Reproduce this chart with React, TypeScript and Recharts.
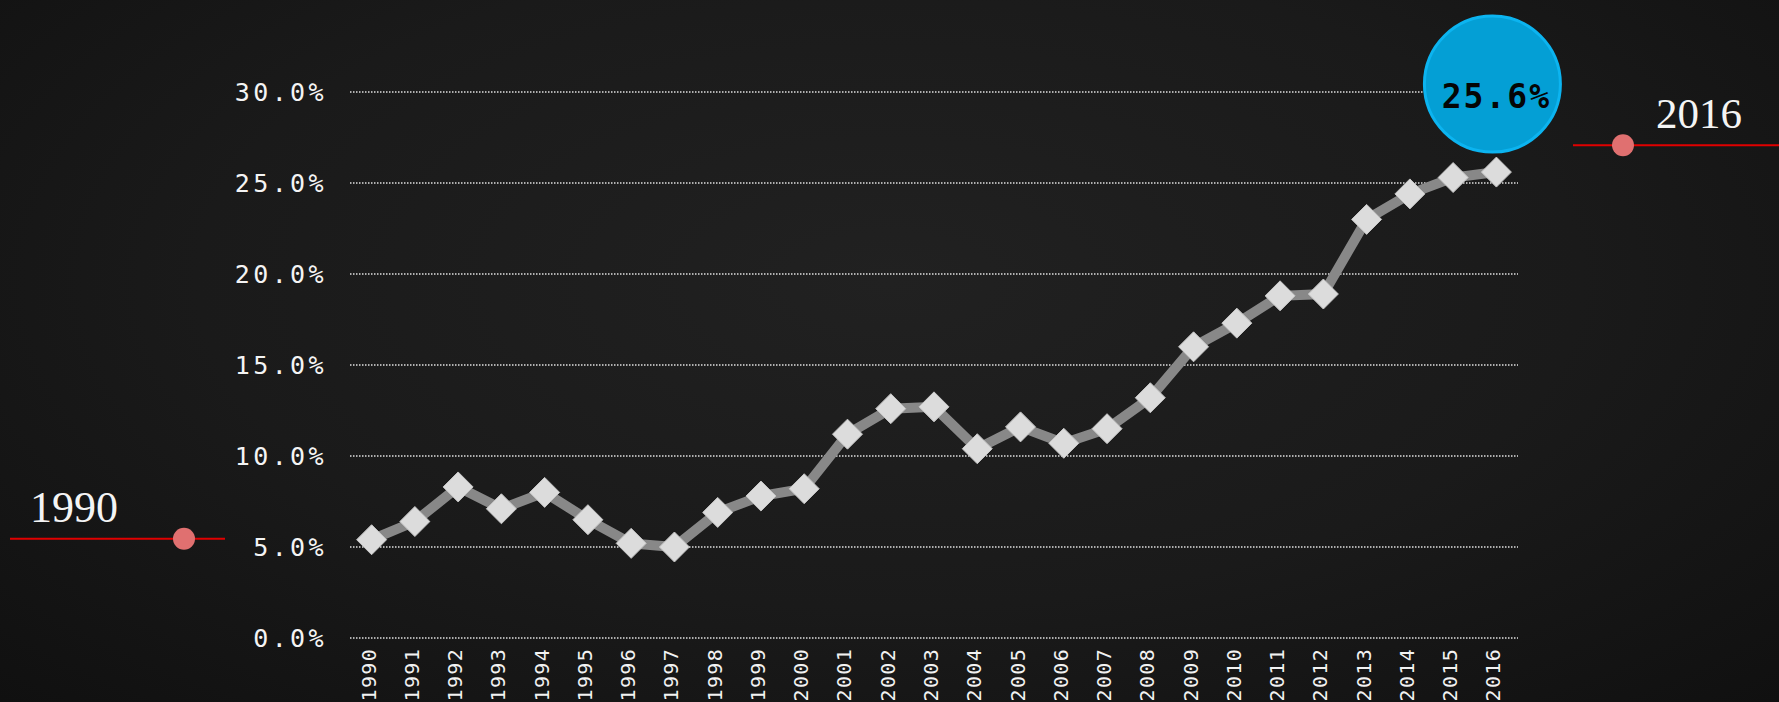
import { LineChart, Line, XAxis, YAxis, CartesianGrid } from "recharts";

const years = [
  "1990", "1991", "1992", "1993", "1994", "1995", "1996", "1997", "1998", "1999",
  "2000", "2001", "2002", "2003", "2004", "2005", "2006", "2007", "2008", "2009",
  "2010", "2011", "2012", "2013", "2014", "2015", "2016",
];

const shares = [
  5.4, 6.4, 8.3, 7.1, 8.0, 6.5, 5.2, 5.0, 6.9, 7.8,
  8.2, 11.2, 12.6, 12.7, 10.4, 11.6, 10.7, 11.5, 13.2, 16.0,
  17.3, 18.8, 18.9, 23.0, 24.4, 25.3, 25.6,
];

const yTicks = [0, 5, 10, 15, 20, 25, 30];

const data = years.map((year, i) => ({ year, share: shares[i] }));

const digitFont = "'DejaVu Sans Mono', monospace";

const Diamond = (props: any) => {
  const { cx, cy } = props;
  if (cx == null || cy == null) return null;
  const r = 15;
  return (
    <polygon
      points={`${cx},${cy - r} ${cx + r},${cy} ${cx},${cy + r} ${cx - r},${cy}`}
      fill="#dcdcdc"
      stroke="#c4c4c4"
      strokeWidth={1}
    />
  );
};

const YearTick = (props: any) => {
  const { x, y, payload } = props;
  return (
    <text
      x={x + 4}
      y={y + 10}
      transform={`rotate(-90, ${x + 4}, ${y + 10})`}
      textAnchor="end"
      fill="#f2f2f2"
      fontFamily={digitFont}
      fontSize={20}
      letterSpacing={1.3}
    >
      {payload.value}
    </text>
  );
};

const Bubble = (props: any) => {
  const { x, y, index, value } = props;
  if (index !== years.length - 1) return null;
  const cx = x - 4;
  const cy = y - 88;
  return (
    <g>
      <circle cx={cx} cy={cy} r={68} fill="#049fd5" stroke="#0cb4f0" strokeWidth={3} />
      <text
        x={cx + 4}
        y={cy + 24}
        textAnchor="middle"
        fill="#050505"
        fontFamily={digitFont}
        fontWeight="bold"
        fontSize={33}
        letterSpacing={2}
      >
        {`${value.toFixed(1)}%`}
      </text>
    </g>
  );
};

export default function App() {
  return (
    <div
      style={{
        position: "absolute",
        left: 0,
        top: 0,
        width: 1779,
        height: 702,
        overflow: "hidden",
        background: "radial-gradient(ellipse at 50% 40%, #212121 0%, #1a1a1a 55%, #101010 100%)",
      }}
    >
      <LineChart width={1779} height={702} data={data} margin={{ top: 92, right: 261, left: 0, bottom: 0 }}>
        <CartesianGrid
          vertical={false}
          stroke="#e0e0e0"
          strokeWidth={1.6}
          strokeDasharray="1.5 1.5"
        />
        <XAxis
          dataKey="year"
          height={64}
          padding={{ left: 21.6, right: 21.6 }}
          axisLine={false}
          tickLine={false}
          tickSize={0}
          tickMargin={0}
          interval={0}
          tick={<YearTick />}
        />
        <YAxis
          width={350}
          domain={[0, 30]}
          ticks={yTicks}
          axisLine={false}
          tickLine={false}
          tickSize={0}
          tickMargin={23}
          tickFormatter={(v: number) => `${v.toFixed(1)}%`}
          tick={{ fill: "#f4f4f4", fontSize: 25, fontFamily: digitFont, letterSpacing: 3.4 }}
        />
        <Line
          dataKey="share"
          type="linear"
          stroke="#888888"
          strokeWidth={10}
          dot={<Diamond />}
          activeDot={false}
          label={<Bubble />}
          isAnimationActive={false}
        />
      </LineChart>
      <svg
        width={1779}
        height={702}
        style={{ position: "absolute", left: 0, top: 0, pointerEvents: "none" }}
      >
        <line x1={10} y1={538.7} x2={225} y2={538.7} stroke="#e00000" strokeWidth={2} />
        <circle cx={184} cy={538.7} r={11} fill="#e07070" />
        <text x={30} y={522} fill="#f4f4f4" fontFamily="'Liberation Serif', serif" fontSize={44}>
          1990
        </text>
        <line x1={1573} y1={145.3} x2={1779} y2={145.3} stroke="#e00000" strokeWidth={2} />
        <circle cx={1623} cy={145.3} r={11} fill="#e07070" />
        <text x={1656} y={128} fill="#f4f4f4" fontFamily="'Liberation Serif', serif" fontSize={43}>
          2016
        </text>
      </svg>
    </div>
  );
}
